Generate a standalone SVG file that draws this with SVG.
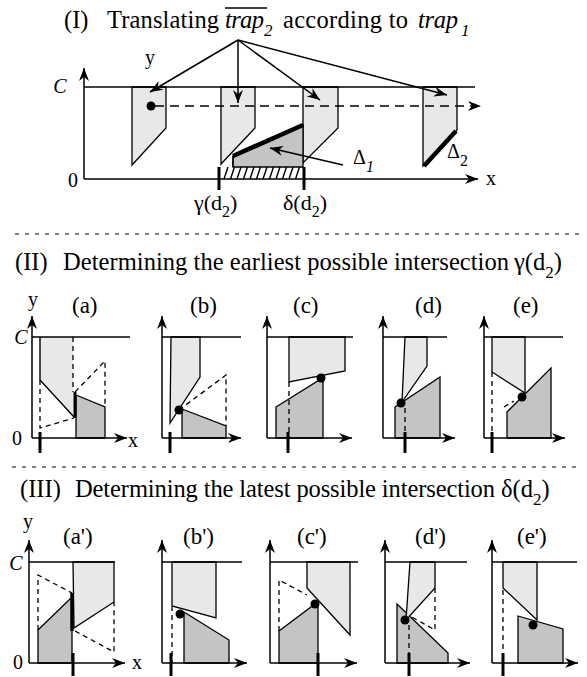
<svg xmlns="http://www.w3.org/2000/svg" width="587" height="677" viewBox="0 0 587 677">
<style>
.t{font-family:"Liberation Serif","Times New Roman",serif;fill:#000}
.i{font-style:italic}
.h{font-size:24.5px}
.s{font-size:17px}
.pl{font-size:23px}
.lb{font-size:20px}
.lt{fill:#e8e8e8;stroke:#000;stroke-width:1.3}
.ltn{fill:#e8e8e8;stroke:none}
.dk{fill:#c4c4c4;stroke:#000;stroke-width:1.3}
.ln{stroke:#000;stroke-width:1.4;fill:none}
.ax{stroke:#000;stroke-width:1.5;fill:none}
.ar{stroke:#000;stroke-width:1.5;fill:none;marker-end:url(#ah)}
.ds{stroke:#000;stroke-width:1.3;fill:none;stroke-dasharray:5,4}
.tk{stroke:#000;stroke-width:3;fill:none}
.sep{stroke:#000;stroke-width:1;stroke-dasharray:4,6}
</style>
<defs>
<marker id="ah" markerUnits="userSpaceOnUse" markerWidth="14" markerHeight="10" refX="13" refY="5" orient="auto">
<path d="M0,0 L13,5 L0,10 L4,5 z" fill="#000"/>
</marker>
</defs>

<!-- Section I -->
<g id="title1">
<text class="t h" x="64" y="28">(I)</text>
<text class="t h" x="107" y="28" textLength="112">Translating</text>
<text class="t h i" x="225" y="28" textLength="39">trap</text>
<line x1="225" y1="8" x2="267" y2="8" stroke="#000" stroke-width="1.6"/>
<text class="t s i" x="264" y="36">2</text>
<text class="t h" x="283" y="28" textLength="125">according to</text>
<text class="t h i" x="418" y="28" textLength="40">trap</text>
<text class="t s i" x="461" y="36">1</text>
</g>
<g id="sec1">
<polygon class="lt" points="132,87 166,87 166,128 132,165"/>
<polygon class="lt" points="221,87 255,87 255,128 221,164"/>
<polygon class="lt" points="303,87 338,87 338,128 303,163"/>
<polygon class="lt" points="423,87 457,87 457,130 423,166"/>
<polygon class="dk" points="233,156 303,125 303,167 233,167" stroke="none"/>
<line class="ln" x1="233" y1="156" x2="233" y2="167"/>
<line x1="233" y1="156" x2="303" y2="125" stroke="#000" stroke-width="4.5"/>
<line x1="456" y1="131" x2="424" y2="166" stroke="#000" stroke-width="4.5"/>
<path class="ln" d="M224,179l4,-12M230.5,179l4,-12M237,179l4,-12M243.5,179l4,-12M250,179l4,-12M256.5,179l4,-12M263,179l4,-12M269.5,179l4,-12M276,179l4,-12M282.5,179l4,-12M289,179l4,-12M295.5,179l4,-12"/>
<line class="ax" x1="84" y1="87" x2="475" y2="87"/>
<line class="ar" x1="84" y1="179" x2="84" y2="68"/>
<line class="ar" x1="84" y1="179" x2="478" y2="179"/>
<line class="tk" x1="219" y1="167" x2="219" y2="190"/>
<line class="tk" x1="304" y1="167" x2="304" y2="190"/>
<circle cx="151" cy="106" r="4.5" fill="#000"/>
<line class="ar" x1="155" y1="106" x2="481" y2="106" stroke-dasharray="9,6"/>
<line class="ar" x1="238" y1="40" x2="150" y2="92" stroke-width="1.3"/>
<line class="ar" x1="238" y1="40" x2="238" y2="103" stroke-width="1.3"/>
<line class="ar" x1="238" y1="40" x2="320" y2="100" stroke-width="1.3"/>
<line class="ar" x1="238" y1="40" x2="447" y2="95" stroke-width="1.3"/>
<line class="ar" x1="343" y1="165" x2="270" y2="148" stroke-width="1.3"/>
<text class="t lb" x="150" y="64" text-anchor="middle">y</text>
<text class="t lb i" x="60" y="93" text-anchor="middle">C</text>
<text class="t lb" x="73" y="187" text-anchor="middle">0</text>
<text class="t lb" x="491" y="185" text-anchor="middle">x</text>
<text class="t" x="353" y="164" font-size="20">Δ<tspan class="i" dy="8" font-size="16">1</tspan></text>
<text class="t" x="447" y="158" font-size="20">Δ<tspan dy="8" font-size="16">2</tspan></text>
<text class="t" x="194" y="210" font-size="22">γ(d<tspan dy="7" font-size="16">2</tspan><tspan dy="-7">)</tspan></text>
<text class="t" x="283" y="210" font-size="22">δ(d<tspan dy="7" font-size="16">2</tspan><tspan dy="-7">)</tspan></text>
</g>

<line class="sep" x1="15" y1="234" x2="580" y2="234"/>

<!-- Section II -->
<g id="title2">
<text class="t h" x="15" y="270">(II)</text>
<text class="t h" x="63" y="270" textLength="446">Determining the earliest possible intersection</text>
<text class="t h" x="514" y="270">γ(d<tspan class="s" dy="8">2</tspan><tspan dy="-8">)</tspan></text>
</g>
<g id="labels2">
<text class="t lb" x="33" y="306" text-anchor="middle">y</text>
<text class="t lb i" x="21" y="344" text-anchor="middle">C</text>
<text class="t lb" x="17" y="445" text-anchor="middle">0</text>
<text class="t lb" x="133" y="447" text-anchor="middle">x</text>
<text class="t pl" x="72" y="313">(a)</text>
<text class="t pl" x="190" y="313">(b)</text>
<text class="t pl" x="293" y="313">(c)</text>
<text class="t pl" x="415" y="313">(d)</text>
<text class="t pl" x="513" y="313">(e)</text>
</g>
<g id="pa">
<polygon class="ltn" points="40,337 73,337 73,417 40,380"/>
<polyline class="ln" points="40,337 40,380 74,417"/>
<line class="ds" x1="73" y1="337" x2="73" y2="392"/>
<polygon class="dk" points="76,395 105,407 105,438 76,438"/>
<line x1="75" y1="392" x2="75" y2="418" stroke="#000" stroke-width="3"/>
<path class="ds" d="M40,380 L40,428 L74,418 M75,392 L105,361 L105,407"/>
<line class="ax" x1="32" y1="337" x2="130" y2="337"/>
<line class="ar" x1="32" y1="438" x2="32" y2="316"/>
<line class="ar" x1="32" y1="438" x2="127" y2="438"/>
<line class="tk" x1="40" y1="432" x2="40" y2="453"/>
</g>
<g id="pb">
<polygon class="lt" points="171,337 200,337 200,377 170,423"/>
<polygon class="dk" points="182,409 226,426 226,438 182,438"/>
<path class="ds" d="M179,410 L226,375 L226,426"/>
<line class="ax" x1="162" y1="337" x2="241" y2="337"/>
<line class="ar" x1="162" y1="438" x2="162" y2="316"/>
<line class="ar" x1="162" y1="438" x2="241" y2="438"/>
<circle cx="179" cy="410" r="4.5" fill="#000"/>
<line class="tk" x1="170" y1="432" x2="170" y2="453"/>
</g>
<g id="pc">
<polygon class="lt" points="289,337 345,337 345,371 289,382"/>
<polygon class="dk" points="276,407 321,379 323,379 323,438 276,438"/>
<line class="ds" x1="289" y1="382" x2="289" y2="438"/>
<line class="ax" x1="267" y1="337" x2="353" y2="337"/>
<line class="ar" x1="267" y1="438" x2="267" y2="316"/>
<line class="ar" x1="267" y1="438" x2="352" y2="438"/>
<circle cx="321" cy="378" r="4.5" fill="#000"/>
<line class="tk" x1="288" y1="432" x2="288" y2="453"/>
</g>
<g id="pd">
<polygon class="lt" points="405,337 427,337 427,366 402,402"/>
<polygon class="dk" points="395,407 401,403 440,377 440,438 395,438"/>
<line class="ds" x1="405" y1="408" x2="405" y2="438"/>
<line class="ax" x1="383" y1="337" x2="447" y2="337"/>
<line class="ar" x1="383" y1="438" x2="383" y2="316"/>
<line class="ar" x1="383" y1="438" x2="455" y2="438"/>
<circle cx="401" cy="403" r="4.5" fill="#000"/>
<line class="tk" x1="405" y1="432" x2="405" y2="453"/>
</g>
<g id="pe">
<polygon class="lt" points="492,337 525,337 525,393 492,372"/>
<polygon class="dk" points="507,412 551,368 551,438 507,438"/>
<path class="ds" d="M492,372 L492,438 M504,407 L514,401"/>
<line class="ax" x1="484" y1="337" x2="563" y2="337"/>
<line class="ar" x1="484" y1="438" x2="484" y2="316"/>
<line class="ar" x1="484" y1="438" x2="565" y2="438"/>
<circle cx="522" cy="397" r="4.5" fill="#000"/>
<line class="tk" x1="492" y1="432" x2="492" y2="453"/>
</g>

<line class="sep" x1="12" y1="467" x2="580" y2="467"/>

<!-- Section III -->
<g id="title3">
<text class="t h" x="20" y="497">(III)</text>
<text class="t h" x="75" y="497" textLength="420">Determining the latest possible intersection</text>
<text class="t h" x="501" y="497">δ(d<tspan class="s" dy="8">2</tspan><tspan dy="-8">)</tspan></text>
</g>
<g id="labels3">
<text class="t lb" x="28" y="528" text-anchor="middle">y</text>
<text class="t lb i" x="16" y="570" text-anchor="middle">C</text>
<text class="t lb" x="18" y="669" text-anchor="middle">0</text>
<text class="t lb" x="137" y="669" text-anchor="middle">x</text>
<text class="t pl" x="63" y="544">(a')</text>
<text class="t pl" x="183" y="544">(b')</text>
<text class="t pl" x="297" y="544">(c')</text>
<text class="t pl" x="415" y="544">(d')</text>
<text class="t pl" x="517" y="544">(e')</text>
</g>
<g id="pa2">
<polygon class="lt" points="73,562 114,562 114,602 74,628"/>
<polygon class="dk" points="38,630 72,597 72,663 38,663"/>
<line x1="72" y1="593" x2="72" y2="631" stroke="#000" stroke-width="3.5"/>
<path class="ds" d="M38,630 L38,575 L72,593 M75,631 L114,652 L114,602"/>
<line class="ax" x1="29" y1="562" x2="115" y2="562"/>
<line class="ar" x1="29" y1="663" x2="29" y2="540"/>
<line class="ar" x1="29" y1="663" x2="125" y2="663"/>
<line class="tk" x1="73" y1="653" x2="73" y2="676"/>
</g>
<g id="pb2">
<polygon class="lt" points="172,562 216,562 216,618 172,606"/>
<polygon class="dk" points="184,612 229,640 229,663 184,663"/>
<line class="ds" x1="172" y1="606" x2="172" y2="663"/>
<line class="ax" x1="162" y1="562" x2="242" y2="562"/>
<line class="ar" x1="162" y1="663" x2="162" y2="540"/>
<line class="ar" x1="162" y1="663" x2="247" y2="663"/>
<circle cx="180" cy="614" r="4.5" fill="#000"/>
<line class="tk" x1="171" y1="653" x2="171" y2="676"/>
</g>
<g id="pc2">
<polygon class="lt" points="307,562 350,562 350,635 307,588"/>
<polygon class="dk" points="279,631 315,604 318,604 318,663 279,663"/>
<path class="ds" d="M279,631 L279,580 L307,595"/>
<line class="ax" x1="270" y1="562" x2="358" y2="562"/>
<line class="ar" x1="270" y1="663" x2="270" y2="540"/>
<line class="ar" x1="270" y1="663" x2="357" y2="663"/>
<circle cx="315" cy="604" r="4.5" fill="#000"/>
<line class="tk" x1="318" y1="653" x2="318" y2="676"/>
</g>
<g id="pd2">
<polygon class="dk" points="397,604 448,653 448,663 397,663"/>
<polygon class="lt" points="410,562 435,562 435,588 406,620"/>
<path class="ds" d="M435,588 L435,630 L410,616 M409,625 L409,663"/>
<line class="ax" x1="385" y1="562" x2="467" y2="562"/>
<line class="ar" x1="385" y1="663" x2="385" y2="540"/>
<line class="ar" x1="385" y1="663" x2="470" y2="663"/>
<circle cx="405" cy="620" r="4.5" fill="#000"/>
<line class="tk" x1="409" y1="653" x2="409" y2="676"/>
</g>
<g id="pe2">
<polygon class="lt" points="503,562 537,562 537,620 503,588"/>
<polygon class="dk" points="518,616 563,629 563,663 518,663"/>
<line class="ds" x1="503" y1="590" x2="503" y2="663"/>
<line class="ax" x1="492" y1="562" x2="577" y2="562"/>
<line class="ar" x1="492" y1="663" x2="492" y2="540"/>
<line class="ar" x1="492" y1="663" x2="578" y2="663"/>
<circle cx="533" cy="625" r="4.5" fill="#000"/>
<line class="tk" x1="503" y1="653" x2="503" y2="676"/>
</g>
</svg>
